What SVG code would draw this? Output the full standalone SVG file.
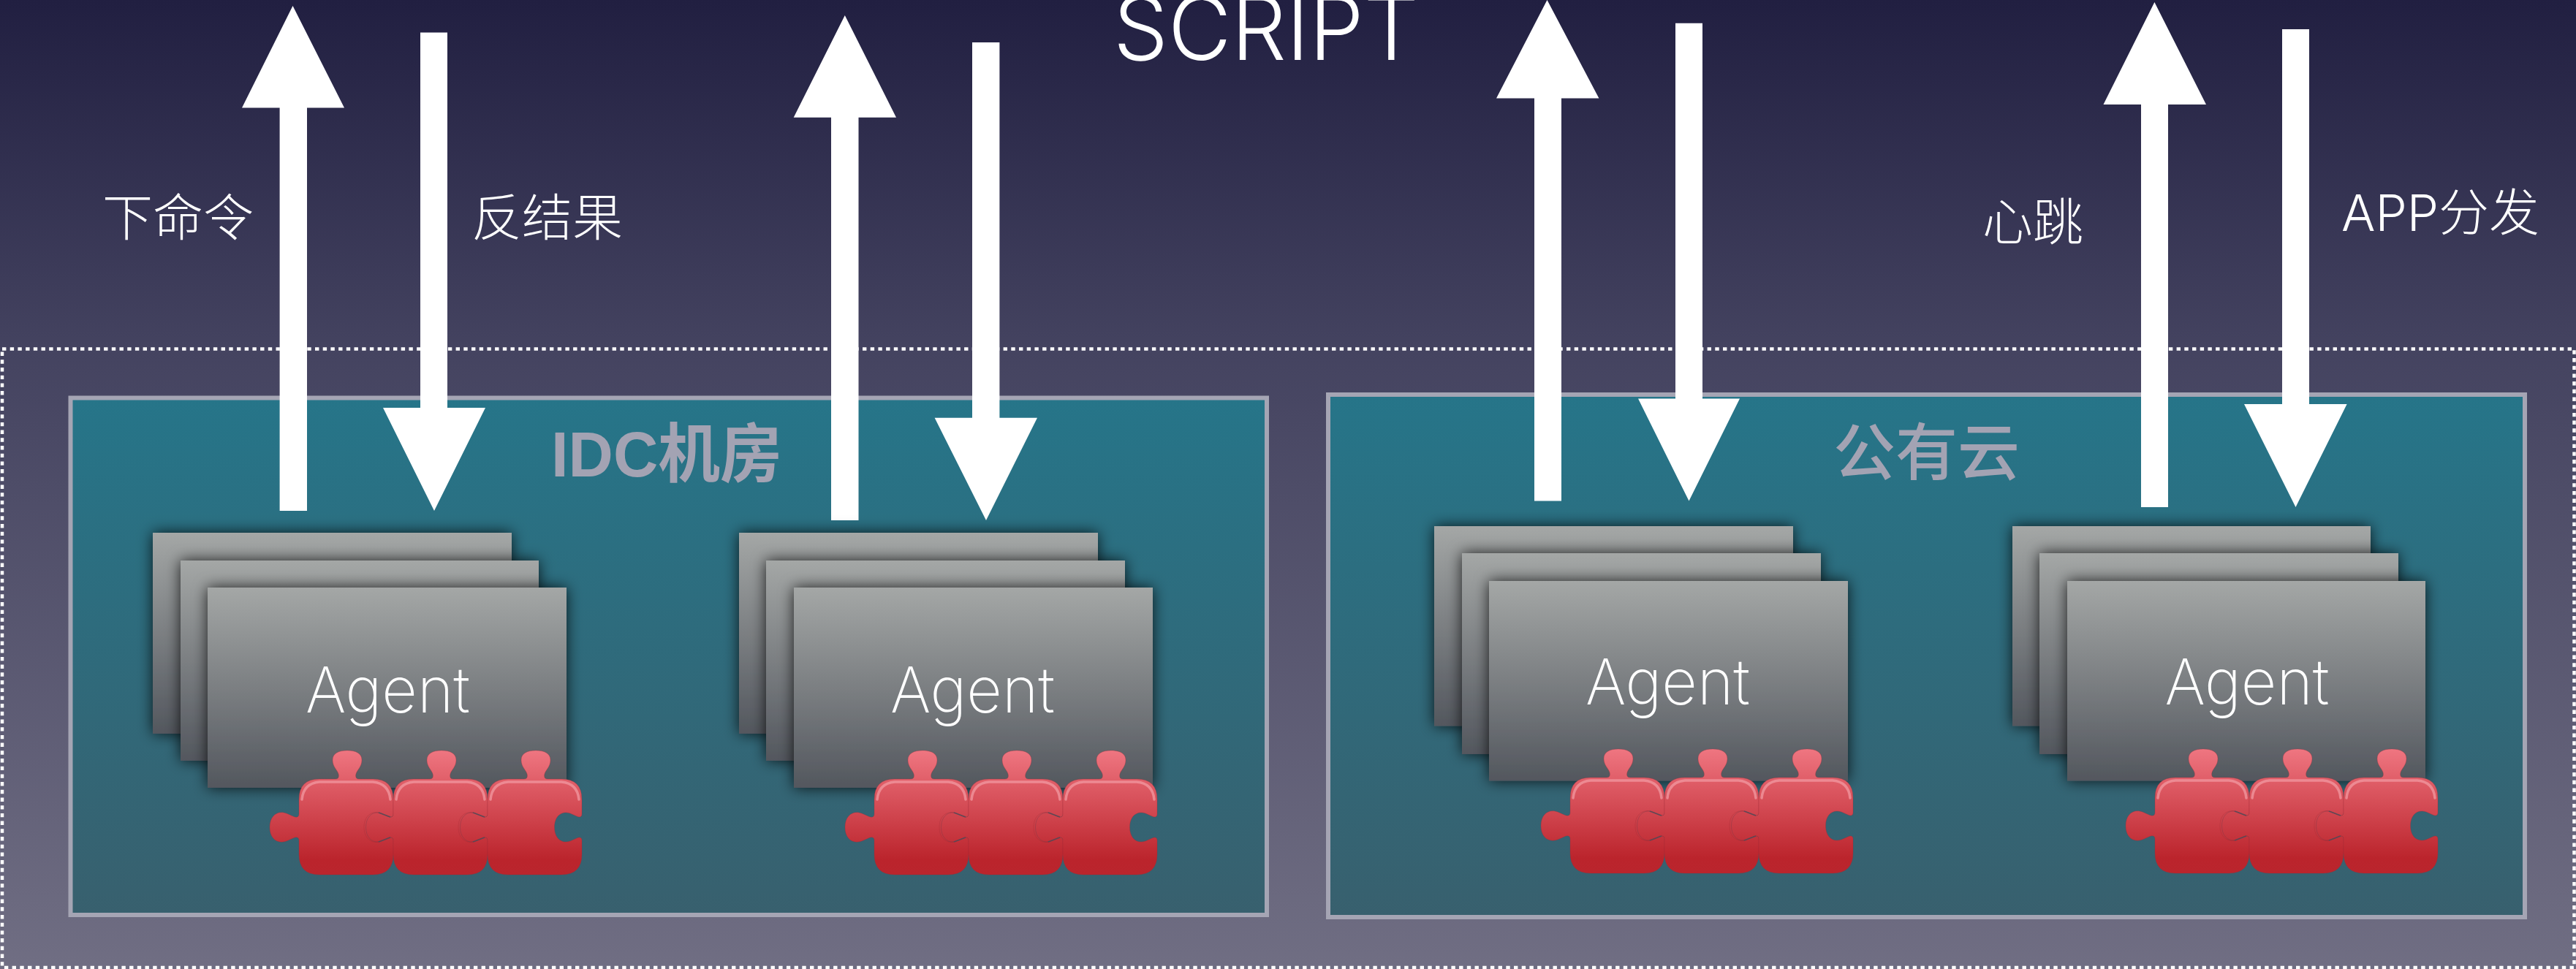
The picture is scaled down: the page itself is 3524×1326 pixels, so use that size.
<svg xmlns="http://www.w3.org/2000/svg" xmlns:xlink="http://www.w3.org/1999/xlink" width="3524" height="1326" viewBox="0 0 3524 1326">
<style>
text{font-family:"Inter","Noto Sans CJK SC",sans-serif;font-weight:300;fill:#fff}
.lab{font-size:69px}
.agent{font-size:87px;font-weight:250}
.title{font-size:88px;font-weight:700;fill:#a3a3b3;font-family:"Liberation Sans","Noto Sans CJK SC",sans-serif}
.title.cn{font-size:85px;font-weight:500}
.box{stroke:#a5a5b4;stroke-width:6}
.card{fill:url(#cardG);filter:url(#sh)}
.arrow{fill:#fff}
.piece{fill:url(#pz);stroke:#9c2a35;stroke-opacity:.3;stroke-width:1}
.hl{fill:none;stroke:#f29aa1;stroke-opacity:.75;stroke-width:3.5;stroke-linecap:round}
.seam{fill:none;stroke:#4f4a58;stroke-width:1.4;stroke-opacity:.8}
.arc{fill:none;stroke:#6e3a48;stroke-width:1;stroke-opacity:.35}
</style>
<defs>
<linearGradient id="bg" x1="0" y1="0" x2="0" y2="1"><stop offset="0" stop-color="#211f41"/><stop offset=".36" stop-color="#444360"/><stop offset="1" stop-color="#706e83"/></linearGradient>
<linearGradient id="boxG" x1="0" y1="0" x2="0" y2="1"><stop offset="0" stop-color="#267589"/><stop offset="1" stop-color="#38606e"/></linearGradient>
<linearGradient id="cardG" x1="0" y1="0" x2="0" y2="1"><stop offset="0" stop-color="#a4a7a6"/><stop offset="1" stop-color="#53575e"/></linearGradient>
<linearGradient id="pz" gradientUnits="userSpaceOnUse" x1="0" y1="-39" x2="0" y2="131"><stop offset="0" stop-color="#ef7681"/><stop offset=".25" stop-color="#e05e68"/><stop offset=".88" stop-color="#bb242c"/><stop offset="1" stop-color="#ba252d"/></linearGradient>
<filter id="sh" x="-15%" y="-20%" width="130%" height="140%"><feDropShadow dx="0" dy="0" stdDeviation="10" flood-color="#000" flood-opacity=".8"/></filter>
<path id="pc" d="M28 0L50 0C54 0 55-3 54-7C52-13 46-17 46-26C46-35 54-39 66-39C78-39 86-35 86-26C86-17 80-13 78-7C77-3 78 0 82 0L101 0Q129 0 129 28L129 48C129 52 126 53 122 51L113 47C101 43 91.500 51 91.500 66C91.500 81 101 89 113 85L122 81C126 79 129 80 129 84L129 103Q129 131 101 131L28 131Q0 131 0 103L0 84C0 80-3 79-7 80.500L-16 84.500C-29 90-40 82-40 66C-40 50-29 42-16 47.500L-7 51.500C-3 53 0 52 0 48L0 28Q0 0 28 0Z"/>
<path id="hl" class="hl" d="M4 28Q6 6 28 4L101 4Q123 6 125 28"/>
<g id="sm"><path class="arc" d="M109 46C99 45 91.500 53 91.500 66C91.500 79 99 87 109 86"/><path class="seam" d="M109 46L125 52M109 86L125 80"/></g>
<g id="pzl">
<use href="#pc" class="piece"/><use href="#hl"/>
<g transform="translate(129)"><use href="#pc" class="piece"/><use href="#hl"/></g>
<g transform="translate(258)"><use href="#pc" class="piece"/><use href="#hl"/></g>
<use href="#sm"/><use href="#sm" transform="translate(129)"/>
</g>
</defs>
<rect id="background" width="3524" height="1326" fill="url(#bg)"/>
<rect id="zone" x="3" y="477.5" width="3518.5" height="846.5" fill="none" stroke="#fff" stroke-width="4.5" stroke-dasharray="5.4 5.3"/>
<g id="idc"><rect class="box" x="96.5" y="544.5" width="1636.5" height="707.5" fill="url(#boxG)"/><text class="title" x="754" y="652" textLength="316" lengthAdjust="spacingAndGlyphs">IDC机房</text></g>
<g id="public-cloud"><rect class="box" x="1817" y="540" width="1637" height="715" fill="url(#boxG)"/><text class="title cn" x="2508" y="650">公有云</text></g>
<g id="connectors">
<polygon class="arrow" points="400.5,8 471,147.5 420,147.5 420,699 382.6,699 382.6,147.5 331,147.5"/>
<polygon class="arrow" points="575,44.5 612,44.5 612,558 664,558 594,699 524,558 575,558"/>
<polygon class="arrow" points="1155.8,21 1226,160.7 1174.5,160.7 1174.5,712 1137,712 1137,160.7 1085.7,160.7"/>
<polygon class="arrow" points="1330,58 1367.4,58 1367.4,571.7 1419,571.7 1349,712 1278.6,571.7 1330,571.7"/>
<polygon class="arrow" points="2116.5,0 2187.4,134.5 2136,134.5 2136,685.5 2099,685.5 2099,134.5 2047,134.5"/>
<polygon class="arrow" points="2292,31.7 2329,31.7 2329,545.5 2380,545.5 2310.5,685.5 2241,545.5 2292,545.5"/>
<polygon class="arrow" points="2947.4,3 3018,143 2966,143 2966,694 2929,694 2929,143 2877.5,143"/>
<polygon class="arrow" points="3122,40 3159,40 3159,553 3210.6,553 3140.5,694 3070,553 3122,553"/>
</g>
<text id="t-script" x="1523" y="82" font-size="122" font-weight="200" textLength="418" lengthAdjust="spacingAndGlyphs">SCRIPT</text>
<text id="t-cmd" class="lab" x="140" y="323">下命令</text>
<text id="t-res" class="lab" x="645" y="323">反结果</text>
<text id="t-hb" class="lab" x="2712" y="329">心跳</text>
<text id="t-app" class="lab" x="3203" y="316">APP分发</text>
<g id="agent-1">
<rect class="card" x="209" y="729" width="491" height="275"/><rect class="card" x="247" y="767" width="490" height="274"/><rect class="card" x="284" y="804" width="491" height="274"/>
<text class="agent" x="418" y="975" textLength="225" lengthAdjust="spacingAndGlyphs">Agent</text>
<use href="#pzl" transform="translate(409 1066)"/>
</g>
<g id="agent-2">
<rect class="card" x="1011" y="729" width="491" height="275"/><rect class="card" x="1048" y="767" width="491" height="274"/><rect class="card" x="1086" y="804" width="491" height="274"/>
<text class="agent" x="1218" y="975" textLength="225" lengthAdjust="spacingAndGlyphs">Agent</text>
<use href="#pzl" transform="translate(1196 1066)"/>
</g>
<g id="agent-3">
<rect class="card" x="1962" y="720" width="491" height="273.500"/><rect class="card" x="2000" y="757" width="491" height="275"/><rect class="card" x="2037" y="795" width="491" height="273.500"/>
<text class="agent" x="2169" y="964" textLength="225" lengthAdjust="spacingAndGlyphs">Agent</text>
<use href="#pzl" transform="translate(2148 1064)"/>
</g>
<g id="agent-4">
<rect class="card" x="2753" y="720" width="490" height="273.500"/><rect class="card" x="2790" y="757" width="491" height="275"/><rect class="card" x="2828" y="795" width="490" height="273.500"/>
<text class="agent" x="2961.500" y="964" textLength="225" lengthAdjust="spacingAndGlyphs">Agent</text>
<use href="#pzl" transform="translate(2948 1064)"/>
</g>
</svg>
